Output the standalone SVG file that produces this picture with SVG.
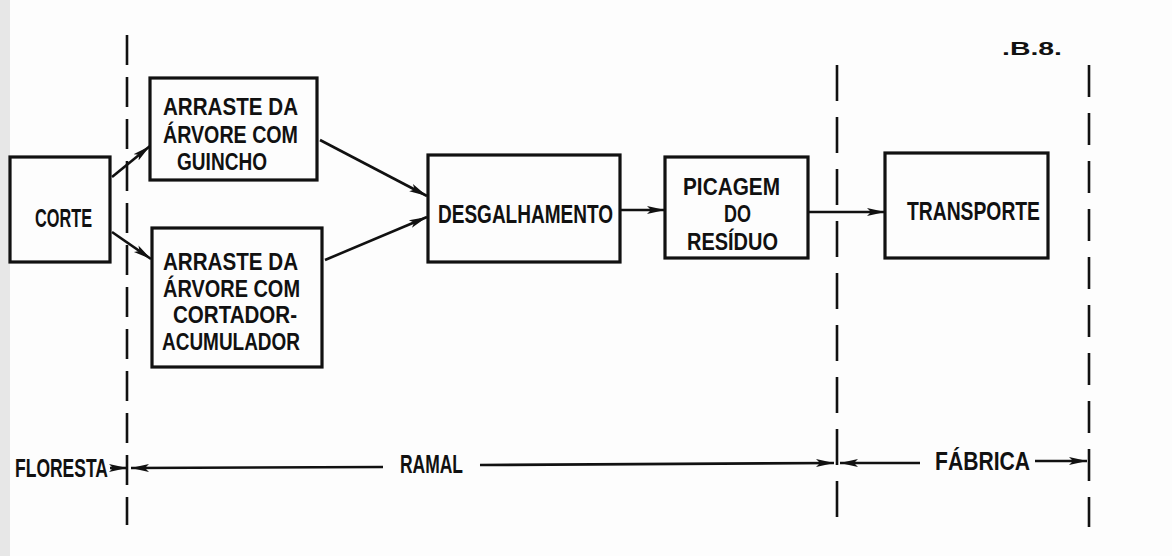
<svg xmlns="http://www.w3.org/2000/svg" width="1172" height="556" viewBox="0 0 1172 556">
<defs>
<style>
.box{fill:none;stroke:#111;stroke-width:3.2}
.t{font-family:"Liberation Sans",Arial,sans-serif;font-weight:bold;font-size:25px;fill:#111}
.m{font-size:23px}
.c{fill:none;stroke:#111;stroke-width:2.6}
.d{fill:none;stroke:#111;stroke-width:2.6}
</style>
<marker id="ah" markerUnits="userSpaceOnUse" markerWidth="20" markerHeight="12" refX="18" refY="6" orient="auto">
<path d="M0,2 L18,6 L0,10 L4,6 z" fill="#111"/>
</marker>
</defs>
<rect width="1172" height="556" fill="#fdfdfd"/>
<rect x="0" y="0" width="10" height="556" fill="#d8d8d8" opacity="0.6"/>

<g id="boundaries">
<line class="d" x1="127" y1="35" x2="127" y2="525" stroke-dasharray="30 12"/>
<line class="d" x1="837" y1="65" x2="837" y2="520" stroke-dasharray="36 16"/>
<line class="d" x1="1089" y1="65" x2="1089" y2="527" stroke-dasharray="32 16"/>
</g>

<g id="corte">
<rect class="box" x="10" y="157" width="100" height="105"/>
<text class="t" x="35" y="227" textLength="57" lengthAdjust="spacingAndGlyphs">CORTE</text>
</g>

<g id="arraste-guincho">
<rect class="box" x="150" y="78" width="167" height="102"/>
<text class="t m" x="163" y="115" textLength="135" lengthAdjust="spacingAndGlyphs">ARRASTE DA</text>
<text class="t m" x="163" y="143" textLength="135" lengthAdjust="spacingAndGlyphs">ÁRVORE COM</text>
<text class="t m" x="177" y="170" textLength="90" lengthAdjust="spacingAndGlyphs">GUINCHO</text>
</g>

<g id="arraste-cortador">
<rect class="box" x="152" y="228" width="170" height="139"/>
<text class="t m" x="163" y="270" textLength="135" lengthAdjust="spacingAndGlyphs">ARRASTE DA</text>
<text class="t m" x="163" y="297" textLength="137" lengthAdjust="spacingAndGlyphs">ÁRVORE COM</text>
<text class="t m" x="173" y="323" textLength="124" lengthAdjust="spacingAndGlyphs">CORTADOR-</text>
<text class="t m" x="162" y="350" textLength="138" lengthAdjust="spacingAndGlyphs">ACUMULADOR</text>
</g>

<g id="desgalhamento">
<rect class="box" x="428" y="155" width="192" height="107"/>
<text class="t" x="438" y="223" textLength="175" lengthAdjust="spacingAndGlyphs">DESGALHAMENTO</text>
</g>

<g id="picagem">
<rect class="box" x="665" y="157" width="143" height="101"/>
<text class="t m" x="683" y="195" textLength="97" lengthAdjust="spacingAndGlyphs">PICAGEM</text>
<text class="t m" x="724" y="222" textLength="27" lengthAdjust="spacingAndGlyphs">DO</text>
<text class="t m" x="687" y="250" textLength="91" lengthAdjust="spacingAndGlyphs">RESÍDUO</text>
</g>

<g id="transporte">
<rect class="box" x="885" y="153" width="163" height="105"/>
<text class="t" x="907" y="220" textLength="133" lengthAdjust="spacingAndGlyphs">TRANSPORTE</text>
</g>

<g id="page-label">
<text class="t" x="1002" y="55" style="font-size:19px" textLength="60" lengthAdjust="spacingAndGlyphs">.B.8.</text>
</g>

<g id="zone-labels">
<text class="t" x="15" y="477" textLength="93" lengthAdjust="spacingAndGlyphs">FLORESTA</text>
<text class="t" x="400" y="473" textLength="63" lengthAdjust="spacingAndGlyphs">RAMAL</text>
<text class="t" x="935" y="470" textLength="95" lengthAdjust="spacingAndGlyphs">FÁBRICA</text>
</g>

<g id="connectors">
<line class="c" x1="112" y1="177" x2="150" y2="146" marker-end="url(#ah)"/>
<line class="c" x1="112" y1="232" x2="151" y2="259" marker-end="url(#ah)"/>
<line class="c" x1="320" y1="140" x2="427" y2="196" marker-end="url(#ah)"/>
<line class="c" x1="325" y1="260" x2="427" y2="217" marker-end="url(#ah)"/>
<line class="c" x1="620" y1="210" x2="665" y2="210" marker-end="url(#ah)"/>
<line class="c" x1="808" y1="212" x2="885" y2="212" marker-end="url(#ah)"/>
<line class="c" x1="110" y1="468" x2="127" y2="468" marker-end="url(#ah)"/>
<line class="c" x1="383" y1="467" x2="131" y2="468" marker-end="url(#ah)"/>
<line class="c" x1="480" y1="465" x2="834" y2="463" marker-end="url(#ah)"/>
<line class="c" x1="920" y1="463" x2="840" y2="463" marker-end="url(#ah)"/>
<line class="c" x1="1035" y1="461" x2="1087" y2="461" marker-end="url(#ah)"/>
</g>
</svg>
